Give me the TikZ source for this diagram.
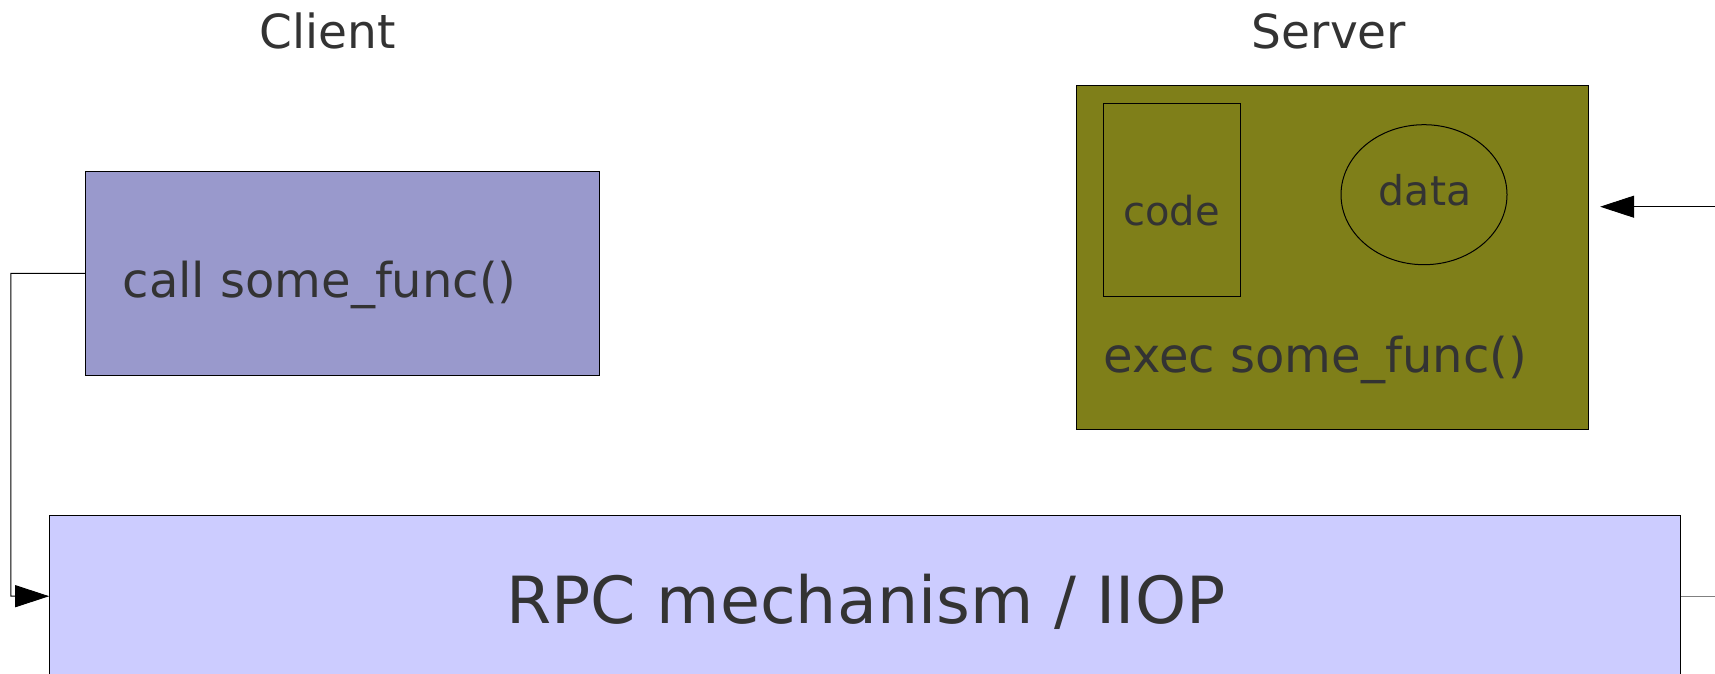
\documentclass[tikz,border=0pt]{standalone}
\usepackage{fontspec}
\setmainfont{DejaVu Sans}
\usetikzlibrary{arrows.meta,shapes.geometric}
\definecolor{txt}{HTML}{333333}
\definecolor{clientfill}{HTML}{9999CC}
\definecolor{serverfill}{HTML}{7F7F19}
\definecolor{rpcfill}{HTML}{CCCCFF}
\tikzset{
  box/.style={draw=black, line width=1pt, inner sep=0pt},
  lbl/.style={text=txt, inner sep=0pt},
  conn/.style={draw=black, line width=1pt},
  arr/.style={conn, -{Triangle[length=34pt,width=22pt]}},
}
\begin{document}
\begin{tikzpicture}[x=1pt,y=-1pt]
\useasboundingbox (0,0) rectangle (1715,674);
% title labels
\node[lbl, anchor=base, font=\fontsize{47}{56}\selectfont] (clientT) at (328,49) {Client};
\node[lbl, anchor=base, font=\fontsize{47}{56}\selectfont] (serverT) at (1329,49) {Server};
% client box
\node[box, fill=clientfill, minimum width=514pt, minimum height=204.6pt, anchor=north west] (client) at (85.3,170.6) {};
\node[lbl, anchor=base west, font=\fontsize{48}{58}\selectfont] (callT) at (122.5,297.5) {call some\_func()};
% server box
\node[box, fill=serverfill, minimum width=511.8pt, minimum height=343.5pt, anchor=north west] (server) at (1076.3,85.3) {};
\node[box, minimum width=137.8pt, minimum height=193.6pt, anchor=north west] (code) at (1102.5,102.8) {};
\node[lbl, anchor=base, font=\fontsize{40}{48}\selectfont] (codeT) at (1171.4,225) {code};
\node[draw=black, line width=1pt, ellipse, minimum width=166pt, minimum height=140pt, inner sep=0pt] (data) at (1424,194.7) {};
\node[lbl, anchor=base, font=\fontsize{41}{49}\selectfont] (dataT) at (1425,205.6) {data};
\node[lbl, anchor=base west, font=\fontsize{48}{58}\selectfont] (execT) at (1103.6,372) {exec some\_func()};
% rpc box
\node[box, fill=rpcfill, minimum width=1630.8pt, minimum height=161pt, anchor=north west] (rpc) at (49.2,515.2) {};
\node[lbl, anchor=base, font=\fontsize{65}{78}\selectfont] (rpcT) at (866,623.4) {RPC mechanism / IIOP};
% connectors
\coordinate (leftX) at (10.9,273.4);
\draw[arr] (client.west) -- (leftX) |- (rpc.west);
\coordinate (rOut) at (1716,0);
\draw[conn, draw=gray] (rpc.east) -- (rOut |- rpc.east);
\coordinate (rIn) at (1716,206.7);
\draw[arr, shorten >=11pt] (rIn) -- (rIn -| server.east);
\end{tikzpicture}
\end{document}
